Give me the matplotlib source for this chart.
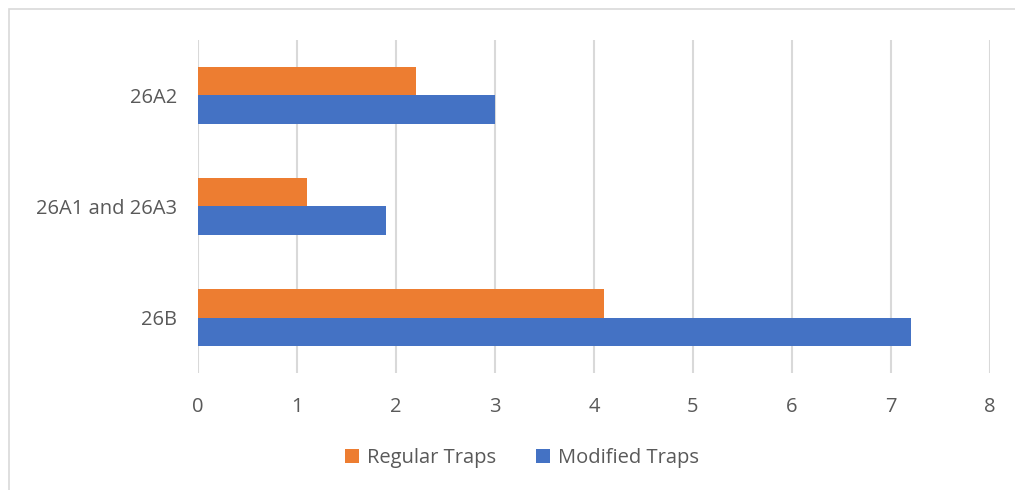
import numpy as np
import matplotlib.pyplot as plt
from matplotlib.patches import Rectangle

categories = ['26B', '26A1 and 26A3', '26A2']
regular = [4.1, 1.1, 2.2]
modified = [7.2, 1.9, 3.0]
xticks = [0, 1, 2, 3, 4, 5, 6, 7, 8]

orange = '#ED7D31'
blue = '#4472C4'
text_col = '#595959'

plt.rcParams['font.family'] = ['Open Sans', 'DejaVu Sans']

fig = plt.figure(figsize=(10.15, 4.9), dpi=100)
ax = fig.add_axes([198 / 1015, 1 - 373 / 490, 792 / 1015, 333 / 490])

y = np.arange(len(categories))
h = 0.26
ax.barh(y + h / 2, regular, height=h, color=orange, label='Regular Traps', zorder=3)
ax.barh(y - h / 2, modified, height=h, color=blue, label='Modified Traps', zorder=3)

ax.set_xlim(0, 8)
ax.set_ylim(-0.5, 2.5)
ax.set_xticks(xticks)
ax.set_yticks(y)
ax.set_yticklabels(categories)
ax.grid(axis='x', color='#D9D9D9', linewidth=1.5, zorder=0)
for s in ax.spines.values():
    s.set_visible(False)
ax.tick_params(length=0, labelsize=14.5, colors=text_col)
ax.tick_params(axis='x', pad=17)
ax.tick_params(axis='y', pad=15)

fig.legend(loc='center', bbox_to_anchor=(522 / 1015, 1 - 458 / 490), ncol=2,
           frameon=False, fontsize=14.5, labelcolor=text_col, handlelength=0.7,
           handleheight=0.7, handletextpad=0.4, columnspacing=2.0)

# outer chart border
fig.patches.append(Rectangle((9 / 1015, -0.1), 1.2, 1 - 9 / 490 + 0.1,
                             transform=fig.transFigure, fill=False,
                             edgecolor='#D9D9D9', linewidth=1.2))

fig.savefig('out.png', dpi=100)
